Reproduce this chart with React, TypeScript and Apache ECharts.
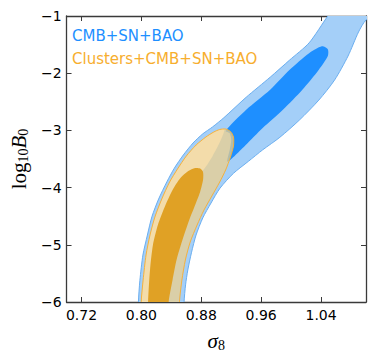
import React, { useEffect, useRef } from "react";
import * as echarts from "echarts";

const xTicks = [0.72, 0.8, 0.88, 0.96, 1.04];
const yTicks = [-6, -5, -4, -3, -2, -1];
const legendLabels = ["CMB+SN+BAO", "Clusters+CMB+SN+BAO"];

// contour outlines (sigma_8, log10 B0)
const blueOuter: number[][] = [
  [0.796, -6.32], [0.796, -6.0], [0.798, -5.62], [0.802, -5.18], [0.808, -4.83],
  [0.814, -4.51], [0.823, -4.2], [0.834, -3.9], [0.844, -3.66], [0.856, -3.43],
  [0.869, -3.22], [0.882, -3.06], [0.895, -2.94], [0.91, -2.78], [0.94, -2.42],
  [0.972, -2.07], [0.998, -1.77], [1.024, -1.47], [1.049, -1.0], [1.061, -0.81],
  [1.087, -0.58], [1.117, -0.63], [1.12, -0.9],
  [1.1, -1.07], [1.09, -1.28], [1.076, -1.7], [1.058, -2.12], [1.037, -2.47],
  [1.011, -2.82], [0.985, -3.12], [0.962, -3.34], [0.943, -3.54], [0.923, -3.75],
  [0.905, -4.01], [0.893, -4.27], [0.882, -4.53], [0.873, -4.83], [0.867, -5.13],
  [0.862, -5.44], [0.859, -5.7], [0.857, -6.0], [0.857, -6.32],
];
const blueInner: number[][] = [
  [0.9125, -3.01], [0.94, -2.64], [0.972, -2.29], [0.998, -1.94], [1.024, -1.65],
  [1.041, -1.53], [1.049, -1.58], [1.049, -1.7], [1.037, -1.94], [1.015, -2.29],
  [0.989, -2.64], [0.962, -2.96], [0.939, -3.26], [0.915, -3.55], [0.918, -3.34],
  [0.92, -3.17], [0.918, -3.05],
];
const clusterOuter: number[][] = [
  [0.7997, -6.32], [0.7997, -6.0], [0.8023, -5.615], [0.8062, -5.178], [0.8115, -4.829],
  [0.818, -4.514], [0.8272, -4.199], [0.8377, -3.902], [0.8482, -3.675], [0.86, -3.448],
  [0.8731, -3.255], [0.8862, -3.115], [0.8967, -3.028], [0.9046, -2.984], [0.9125, -2.976],
  [0.919, -3.019], [0.923, -3.115], [0.923, -3.273], [0.919, -3.465], [0.9125, -3.692],
  [0.9046, -3.902], [0.8941, -4.147], [0.8836, -4.392], [0.8744, -4.654], [0.8652, -4.951],
  [0.8587, -5.266], [0.8541, -5.615], [0.8508, -6.0], [0.8508, -6.32],
];
// part of the cluster band that lies on white (lighter shade)
const clusterOuterLeft: number[][] = [
  [0.7997, -6.32], [0.7997, -6.0], [0.8023, -5.615], [0.8062, -5.178], [0.8115, -4.829],
  [0.818, -4.514], [0.8272, -4.199], [0.8377, -3.902], [0.8482, -3.675], [0.86, -3.448],
  [0.8731, -3.255], [0.8862, -3.115], [0.8967, -3.028], [0.9046, -2.984], [0.911, -2.978],
  [0.905, -3.2], [0.895, -3.45], [0.882, -3.7], [0.866, -3.85], [0.86, -4.05],
  [0.85, -4.4], [0.839, -4.75], [0.83, -5.2], [0.826, -5.6], [0.8226, -6.0], [0.8226, -6.32],
];
const clusterInner: number[][] = [
  [0.8089, -6.32], [0.8089, -6.0], [0.8115, -5.441], [0.8154, -5.003], [0.822, -4.654],
  [0.8311, -4.339], [0.8416, -4.042], [0.8521, -3.832], [0.8626, -3.71], [0.8718, -3.657],
  [0.8784, -3.666], [0.8823, -3.727], [0.8823, -3.867], [0.8784, -4.077], [0.8718, -4.304],
  [0.8639, -4.566], [0.8548, -4.916], [0.8469, -5.266], [0.8416, -5.615], [0.8364, -6.0],
  [0.8364, -6.32],
];

const AXIS_COLOR = "#3a3a3a";
const MATH_FONT = "Liberation Serif";
const SANS = "DejaVu Sans";

function minusFmt(v: number) {
  return v < 0 ? "\u2212" + Math.abs(v) : String(v);
}

export default function App() {
  const ref = useRef<HTMLDivElement>(null);
  useEffect(() => {
    const chart = echarts.init(ref.current!, null, { renderer: "svg" });
    const poly = (pts: number[][], fill: string, stroke: string, lw: number) => ({
      type: "custom",
      clip: true,
      silent: true,
      data: [[0.9, -3]],
      renderItem: (_params: any, api: any) => ({
        type: "polygon",
        shape: { points: pts.map((p) => api.coord(p)), smooth: 0.25 },
        style: { fill, stroke, lineWidth: lw },
      }),
    });
    const tickCommon = { show: true, inside: true, length: 5, lineStyle: { color: AXIS_COLOR, width: 1 } };
    const lineCommon = { show: true, onZero: false, lineStyle: { color: AXIS_COLOR, width: 1.3 } };
    const labelStyle = { fontSize: 14, color: "#000", fontFamily: SANS };
    chart.setOption({
      animation: false,
      grid: { left: 60, right: 8, top: 16, bottom: 59 },
      xAxis: [
        {
          type: "value",
          min: 0.7,
          max: 1.1,
          position: "bottom",
          axisLine: lineCommon,
          axisTick: { ...tickCommon, customValues: xTicks },
          axisLabel: { ...labelStyle, customValues: xTicks, margin: 6, formatter: (v: number) => v.toFixed(2) },
          splitLine: { show: false },
          name: "{it|σ}{sub|8}",
          nameLocation: "middle",
          nameGap: 27,
          nameTextStyle: {
            rich: {
              it: { fontFamily: MATH_FONT, fontStyle: "italic", fontSize: 21, color: "#000" },
              sub: { fontFamily: MATH_FONT, fontSize: 14, color: "#000", padding: [9, 0, 0, 0] },
            },
          },
        },
        {
          type: "value",
          min: 0.7,
          max: 1.1,
          position: "top",
          axisLine: lineCommon,
          axisTick: { ...tickCommon, customValues: xTicks },
          axisLabel: { show: false },
          splitLine: { show: false },
        },
      ],
      yAxis: [
        {
          type: "value",
          min: yTicks[0],
          max: yTicks[yTicks.length - 1],
          interval: 1,
          position: "left",
          axisLine: lineCommon,
          axisTick: tickCommon,
          axisLabel: { ...labelStyle, margin: 5, formatter: minusFmt },
          splitLine: { show: false },
          name: "{rm|log}{sub|10}{it|B}{sub|0}",
          nameLocation: "middle",
          nameGap: 33,
          nameTextStyle: {
            rich: {
              rm: { fontFamily: MATH_FONT, fontSize: 21, color: "#000" },
              it: { fontFamily: MATH_FONT, fontStyle: "italic", fontSize: 21, color: "#000" },
              sub: { fontFamily: MATH_FONT, fontSize: 14, color: "#000", padding: [9, 0, 0, 0] },
            },
          },
        },
        {
          type: "value",
          min: yTicks[0],
          max: yTicks[yTicks.length - 1],
          interval: 1,
          position: "right",
          axisLine: lineCommon,
          axisTick: tickCommon,
          axisLabel: { show: false },
          splitLine: { show: false },
        },
      ],
      series: [
        poly(blueOuter, "#a4cff8", "#6aaef0", 1),
        poly(blueInner, "#1e8fff", "none", 0),
        poly(clusterOuter, "rgba(238,206,137,0.72)", "none", 0),
        poly(clusterOuterLeft, "#f3dcaa", "none", 0),
        poly(clusterOuter, "none", "#f5b13c", 1),
        poly(clusterInner, "#e0a125", "none", 0),
      ],
      graphic: [
        {
          type: "text",
          x: 72,
          y: 36,
          style: { text: legendLabels[0], fill: "#1e8fff", fontSize: 15, fontFamily: SANS, verticalAlign: "middle" },
        },
        {
          type: "text",
          x: 72,
          y: 59,
          style: { text: legendLabels[1], fill: "#f7ae2e", fontSize: 15, fontFamily: SANS, verticalAlign: "middle" },
        },
      ],
    });
    return () => chart.dispose();
  }, []);
  return <div ref={ref} style={{ position: "absolute", left: 0, top: 0, width: 374, height: 361 }} />;
}
